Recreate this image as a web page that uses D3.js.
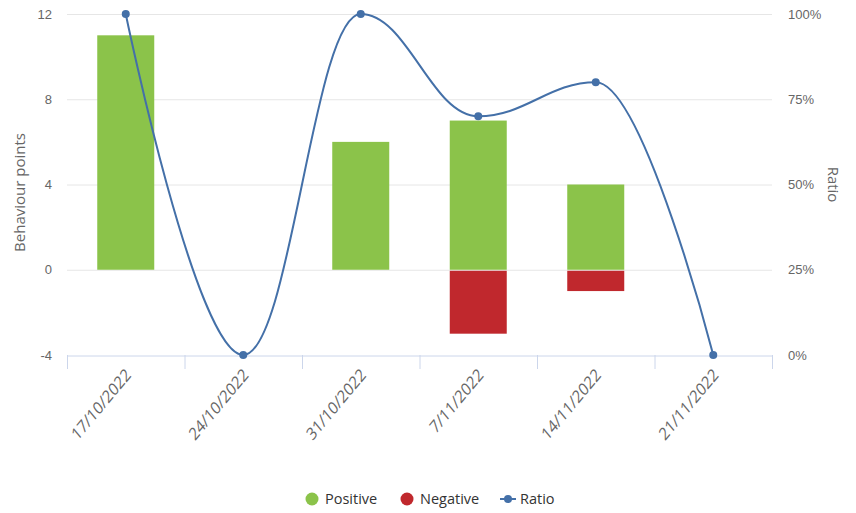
<!DOCTYPE html>
<html>
<head>
<meta charset="utf-8">
<script src="https://cdn.jsdelivr.net/npm/d3@7"></script>
<style>
    body { margin: 0; background: #fff; }
    svg { display: block; font-family: "Open Sans", sans-serif; }
</style>
</head>
<body>
<div class="chart"></div>
<script>
// chart data
const dates = ["17/10/2022", "24/10/2022", "31/10/2022", "7/11/2022", "14/11/2022", "21/11/2022"];
const positive = [11, 0, 6, 7, 4, 0];
const negative = [0, 0, 0, -3, -1, 0];
const ratio = [100, 0, 100, 70, 80, 0];
const leftTicks = [-4, 0, 4, 8, 12];
const rightTicks = [0, 25, 50, 75, 100];

const w = 856, h = 513;
const plot = { left: 67, right: 772, top: 14, bottom: 355 };

const svg = d3.select("div.chart")
    .append("svg")
    .attr("width", w)
    .attr("height", h);

// scales
const xScale = d3.scaleBand()
    .domain(dates)
    .range([plot.left, plot.right]);

const yScale = d3.scaleLinear()
    .domain([-4, 12])
    .range([plot.bottom, plot.top]);

const rScale = d3.scaleLinear()
    .domain([0, 100])
    .range([plot.bottom, plot.top]);

// grid lines
svg.append("g")
    .selectAll("line")
    .data(leftTicks.filter(d => d !== -4))
    .enter()
    .append("line")
    .attr("x1", plot.left)
    .attr("x2", plot.right)
    .attr("y1", d => yScale(d) + 0.5)
    .attr("y2", d => yScale(d) + 0.5)
    .attr("stroke", "#e6e6e6")
    .attr("stroke-width", 1);

// left axis
const yAxis = d3.axisLeft(yScale).tickValues(leftTicks).tickSize(0).tickPadding(12)
    .tickFormat(d => String(d));
const gy = svg.append("g")
    .attr("transform", "translate(" + (plot.left - 3) + ",0)")
    .call(yAxis);
gy.select(".domain").remove();
gy.selectAll("text").attr("fill", "#666").style("font-size", "13px");

// right axis
const rAxis = d3.axisRight(rScale).tickValues(rightTicks).tickSize(0).tickFormat(d => d + "%").tickPadding(14);
const gr = svg.append("g")
    .attr("transform", "translate(" + (plot.right + 2) + ",0)")
    .call(rAxis);
gr.select(".domain").remove();
gr.selectAll("text").attr("fill", "#666").style("font-size", "13px");

// axis titles
svg.append("text")
    .attr("transform", "translate(25," + ((plot.top + plot.bottom) / 2 + 8) + ") rotate(-90)")
    .attr("text-anchor", "middle")
    .attr("fill", "#666")
    .style("font-size", "15px")
    .text("Behaviour points");

svg.append("text")
    .attr("transform", "translate(828," + ((plot.top + plot.bottom) / 2) + ") rotate(90)")
    .attr("text-anchor", "middle")
    .attr("fill", "#666")
    .style("font-size", "15px")
    .text("Ratio");

// bars
const barW = 57;
svg.append("g")
    .selectAll("rect")
    .data(positive)
    .enter()
    .append("rect")
    .attr("x", (d, i) => xScale(dates[i]) + xScale.bandwidth() / 2 - barW / 2)
    .attr("y", d => yScale(d))
    .attr("width", barW)
    .attr("height", d => yScale(0) - yScale(d))
    .attr("fill", "#8bc34a");

svg.append("g")
    .selectAll("rect")
    .data(negative)
    .enter()
    .append("rect")
    .attr("x", (d, i) => xScale(dates[i]) + xScale.bandwidth() / 2 - barW / 2)
    .attr("y", d => yScale(0) + 1)
    .attr("width", barW)
    .attr("height", d => Math.max(0, yScale(d) - yScale(0) - 1))
    .attr("fill", "#c0282d");

// x axis
const xAxis = d3.axisBottom(xScale).tickSize(0).tickFormat("");
const gx = svg.append("g")
    .attr("transform", "translate(0," + (plot.bottom + 0.5) + ")")
    .call(xAxis);
gx.select(".domain").attr("stroke", "#ccd6eb");
const bounds = dates.map(d => xScale(d)).concat([plot.right]);
svg.append("g")
    .selectAll("line")
    .data(bounds)
    .enter()
    .append("line")
    .attr("x1", d => d + 0.5)
    .attr("x2", d => d + 0.5)
    .attr("y1", plot.bottom)
    .attr("y2", plot.bottom + 14)
    .attr("stroke", "#ccd6eb");

// rotated date labels (a bit stretched vertically like the source)
svg.append("g")
    .selectAll("text")
    .data(dates)
    .enter()
    .append("text")
    .attr("transform", d => "translate(" + (xScale(d) + xScale.bandwidth() / 2 + 6) + "," + (plot.bottom + 21) + ") scale(1,1.2) rotate(-45)")
    .attr("text-anchor", "end")
    .attr("fill", "#666")
    .style("font-size", "14.5px")
    .text(d => d);

// spline for the ratio (highcharts style)
const pts = ratio.map((v, i) => ({ x: xScale(dates[i]) + xScale.bandwidth() / 2, y: rScale(v) }));
const sm = 1.5, den = 2.5;
pts.forEach((p, i) => {
    p.lx = p.x; p.ly = p.y; p.rx = p.x; p.ry = p.y;
    if (i > 0 && i < pts.length - 1) {
        const a = pts[i - 1], b = pts[i + 1];
        let lx = (sm * p.x + a.x) / den, ly = (sm * p.y + a.y) / den;
        let rx = (sm * p.x + b.x) / den, ry = (sm * p.y + b.y) / den;
        const corr = ((ry - ly) * (rx - p.x)) / (rx - lx) + p.y - ry;
        ly += corr; ry += corr;
        if (ly > a.y && ly > p.y) { ly = Math.max(a.y, p.y); ry = 2 * p.y - ly; }
        else if (ly < a.y && ly < p.y) { ly = Math.min(a.y, p.y); ry = 2 * p.y - ly; }
        if (ry > b.y && ry > p.y) { ry = Math.max(b.y, p.y); ly = 2 * p.y - ry; }
        else if (ry < b.y && ry < p.y) { ry = Math.min(b.y, p.y); ly = 2 * p.y - ry; }
        p.lx = lx; p.ly = ly; p.rx = rx; p.ry = ry;
    }
});
const path = d3.path();
path.moveTo(pts[0].x, pts[0].y);
for (let i = 1; i < pts.length; i++) {
    const a = pts[i - 1], p = pts[i];
    path.bezierCurveTo(a.rx, a.ry, p.lx, p.ly, p.x, p.y);
}
svg.append("path")
    .attr("d", path.toString())
    .attr("fill", "none")
    .attr("stroke", "#4470a8")
    .attr("stroke-width", 2);

svg.append("g")
    .selectAll("circle")
    .data(pts)
    .enter()
    .append("circle")
    .attr("cx", d => d.x)
    .attr("cy", d => d.y)
    .attr("r", 4)
    .attr("fill", "#4470a8");

// legend
const legend = [
    { name: "Positive", color: "#8bc34a", type: "dot", x: 305 },
    { name: "Negative", color: "#c0282d", type: "dot", x: 400 },
    { name: "Ratio", color: "#4470a8", type: "line", x: 500 }
];
const lg = svg.append("g").attr("transform", "translate(0,499)");
legend.forEach(l => {
    if (l.type === "dot") {
        lg.append("circle").attr("cx", l.x + 7).attr("cy", 0).attr("r", 6.5).attr("fill", l.color);
    } else {
        lg.append("line").attr("x1", l.x).attr("x2", l.x + 16).attr("y1", 0).attr("y2", 0)
            .attr("stroke", l.color).attr("stroke-width", 2);
        lg.append("circle").attr("cx", l.x + 8).attr("cy", 0).attr("r", 4).attr("fill", l.color);
    }
    lg.append("text")
        .attr("x", l.x + 20)
        .attr("y", 5)
        .attr("fill", "#333")
        .style("font-size", "14.5px")
        .text(l.name);
});
</script>
</body>
</html>
